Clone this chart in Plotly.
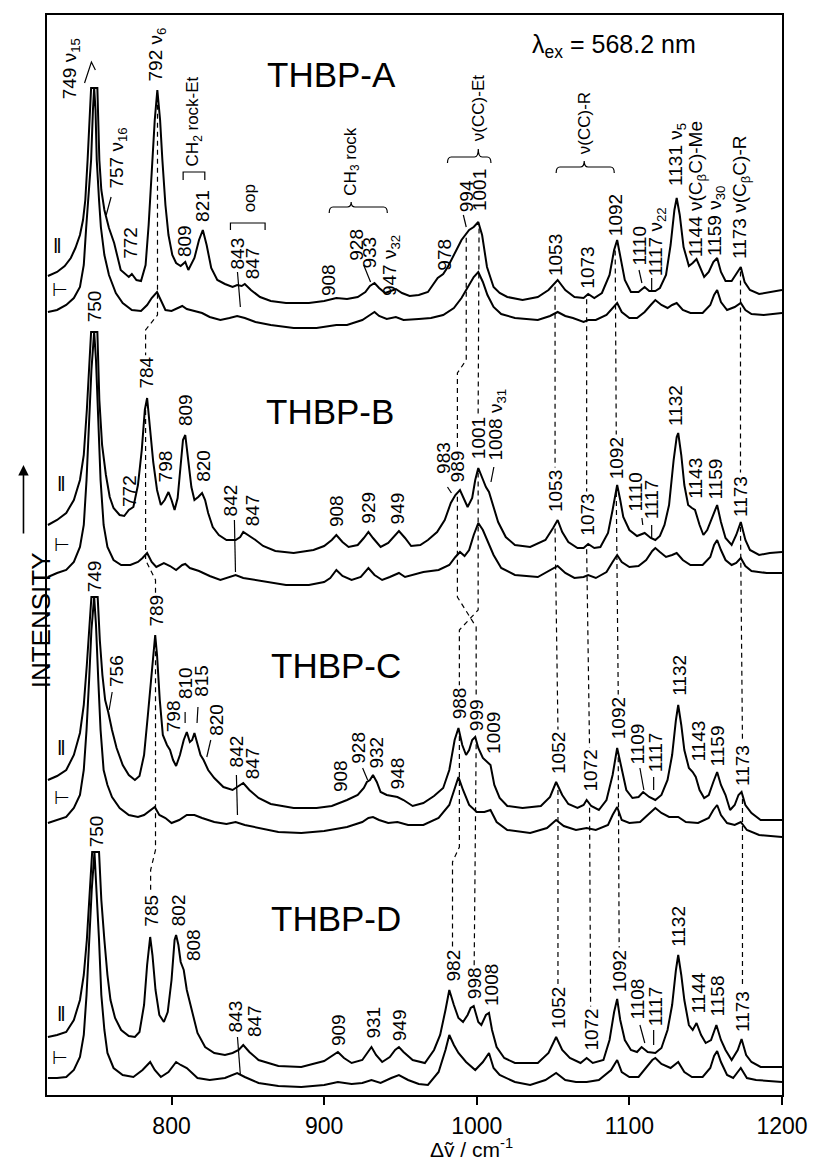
import numpy as np
import plotly.graph_objects as go

# ---------------- data: (wavenumber cm-1, relative Raman intensity) ----------------
A_PAR = [(719,29),(725,33),(730,39),(734,47),(737,57),(740,70),(742,85),(743.5,105),(745,145),(746.3,190),(747.3,217),(751.4,217),(752.7,145),(754,115),(756,95),(759,77),(762.4,62),(766.7,35),(769.5,31),(772,28),(774,31),(777,25),(780,24),(783,40),(785,80),(787,135),(789,185),(790.7,215),(792.5,185),(794,145),(796,100),(798,70),(800.5,50),(803,42),(806,39),(809,43),(811,35),(815,47),(818,65),(820.5,75),(823,60),(826,37),(830,25),(835,21),(840,18),(843,20),(846,19),(848,21),(852,15),(858,8),(865,4),(875,2),(890,2),(900,4),(908,7),(915,6),(922,8),(927,13),(930,19),(933,22),(936,17),(940,12),(944,14),(947,16),(951,12),(956,9),(962,10),(968,13),(974.4,27),(978,31),(981,38),(985,50),(990,65),(995,75),(998,78),(1001,83),(1003.5,70),(1006.7,38),(1011,18),(1015,12),(1020,8),(1030,5),(1040,8),(1047,15),(1053,25),(1058,15),(1064,8),(1070,7),(1073,11),(1077,7),(1082,12),(1087,30),(1090,55),(1092,65),(1094,50),(1097,25),(1101,13),(1106,13),(1110,18),(1113,14),(1117,14),(1120,17),(1124,30),(1127,60),(1129.5,95),(1131,107),(1133,90),(1135.5,58),(1139,39),(1141.5,42),(1144,46),(1146.5,37),(1149,28),(1152,33),(1155,43),(1157.5,47),(1160,33),(1163,24),(1167,24),(1170,31),(1173,38),(1175.5,23),(1179,15),(1185,11),(1200,15)]
A_PERP = [(719,18),(725,20),(731,25),(736,32),(740,43),(742.5,65),(744.1,103),(745.8,140),(747.3,170),(748.5,220),(749.3,242),(750.2,220),(751,170),(752.5,130),(753.7,103),(756,75),(759,55),(763.5,37),(768,27),(774,20),(780,19),(784,25),(787,32),(790.5,38),(793,30),(796,20),(800,19),(804,22),(807,24),(810,21),(815,19),(820,17),(825,13),(832,10),(838,12),(843,14),(848,12),(855,8),(865,5),(880,2),(895,2),(903,4),(908,5),(915,5),(925,10),(930,15),(933,18),(936,14),(941,11),(947,13),(952,10),(962,11),(970,12),(978,15),(985,22),(990,32),(995,45),(998,53),(1001,58),(1004,48),(1007,35),(1011,23),(1016,16),(1025,12),(1040,10),(1048,14),(1053,18),(1058,14),(1063,12),(1070,8),(1073,10),(1078,10),(1085,15),(1089,22),(1092,27),(1095,18),(1100,12),(1105,12),(1110,18),(1114,25),(1117,30),(1121,25),(1125,22),(1128,25),(1131,27),(1135,20),(1140,17),(1148,17),(1153,25),(1155.5,35),(1157.5,40),(1160,28),(1164,20),(1169,23),(1173,27),(1176,20),(1180,16),(1188,15),(1200,17)]
B_PAR = [(719,30),(725,35),(731,42),(736,55),(740,75),(742.5,100),(744.5,145),(746,190),(747.3,223),(751.4,223),(752.7,155),(754.5,110),(757,80),(759.5,58),(762,47),(766,40),(769,39),(772,45),(775,48),(778,70),(780.5,105),(782.5,145),(784,157),(786,125),(788,93),(790.5,65),(793,50),(795.5,55),(798,63),(800,55),(802,45),(804,57),(806,90),(807.5,115),(809,120),(811,95),(813,68),(815,55),(817.5,58),(820,62),(822,55),(824,42),(827,28),(831,20),(836,15),(842,15),(845,18),(847,23),(850,20),(855,15),(860,9),(868,4),(880,2),(893,5),(900,9),(905,15),(908,20),(912,13),(916,8),(922,10),(926,17),(929,23),(932,17),(937,8),(942,12),(946,19),(949,24),(953,17),(957,9),(963,10),(968,15),(974,23),(979,35),(983,52),(986,60),(989,65),(992,55),(994,48),(997,57),(999,75),(1001,87),(1004,75),(1006,68),(1008,63),(1011,47),(1014,33),(1019,18),(1025,10),(1035,8),(1045,15),(1050,27),(1053,35),(1056,23),(1060,13),(1066,7),(1070,7),(1073,11),(1077,7),(1081,8),(1086,22),(1089,45),(1091,65),(1092,70),(1094,55),(1096,38),(1100,25),(1105,19),(1110,22),(1114,17),(1117,15),(1120,19),(1123,30),(1126,50),(1129,95),(1131,118),(1132,122),(1134,100),(1136,70),(1138.5,50),(1141,47),(1143,45),(1146,30),(1148.5,20),(1151,25),(1154,37),(1157.5,50),(1160,33),(1163,17),(1167,10),(1170,20),(1173,33),(1176,15),(1179,5),(1185,0),(1192,2),(1200,3)]
B_PERP = [(719,8),(725,12),(731,15),(736,23),(740,38),(742.5,60),(744.3,105),(746,165),(747.5,215),(749.3,253),(750.5,225),(752,165),(753.5,105),(755.5,60),(758,38),(762,25),(767,20),(773,20),(778,23),(781,27),(784,32),(787,23),(790,18),(795,22),(799,19),(803,15),(807,20),(809,21),(812,17),(818,14),(825,9),(832,5),(838,8),(842,10),(847,7),(855,5),(862,3),(875,0),(890,0),(900,3),(904,7),(908,15),(912,9),(918,5),(924,8),(929,17),(933,10),(938,5),(943,8),(949,12),(953,8),(958,10),(965,13),(975,15),(982,20),(986,28),(989,33),(992,29),(995,35),(998,50),(1001,62),(1004,55),(1007,45),(1011,30),(1016,17),(1025,10),(1040,8),(1048,15),(1053,19),(1058,12),(1064,7),(1070,8),(1073,10),(1078,7),(1085,13),(1089,23),(1092,30),(1095,23),(1100,18),(1106,19),(1111,25),(1115,34),(1117,37),(1120,33),(1124,28),(1128,30),(1131,32),(1135,25),(1140,20),(1148,20),(1153,28),(1155.5,40),(1157.5,45),(1160,35),(1163,25),(1167,20),(1170,22),(1173,27),(1176,19),(1180,14),(1190,12),(1200,12)]
C_PAR = [(719,42),(725,46),(731,52),(736,67),(740,89),(742.5,117),(744.5,157),(746,197),(747.5,225),(751.6,225),(753,182),(754.7,147),(756.5,122),(758.5,110),(761,92),(764,74),(768,57),(772,47),(776,42),(779,46),(782,67),(784.5,107),(786.7,147),(788.3,177),(789.3,187),(790.5,167),(792.3,122),(794.3,87),(797,77),(799,72),(801,62),(803,56),(805.5,67),(808,82),(810,90),(812,80),(813.5,82),(815,89),(817,77),(819,67),(821,62),(824,52),(828,44),(834,35),(840,32),(843,35),(847,39),(851,32),(857,24),(865,18),(880,14),(895,14),(905,16),(915,22),(922,27),(926,34),(928,40),(930,42),(932,47),(934.5,40),(937,30),(941,27),(945,26),(948,25),(952,22),(958,16),(965,19),(972,26),(978,34),(982,52),(985.5,82),(988,94),(990.5,77),(993,67),(995,72),(997,82),(999,85),(1001,74),(1004,64),(1007,60),(1009,57),(1011.5,37),(1015,24),(1020,16),(1030,14),(1042,16),(1048,25),(1052,40),(1056,27),(1060,18),(1066,14),(1070,17),(1072,22),(1075,16),(1080,12),(1085,22),(1089,47),(1092,74),(1095,52),(1098,32),(1102,24),(1106,25),(1109,30),(1113,25),(1117,22),(1121,27),(1125,42),(1128,67),(1130.5,102),(1132,117),(1134,97),(1136,72),(1139,54),(1141.5,50),(1143.5,45),(1146,32),(1149,24),(1152,27),(1155,40),(1157.5,50),(1160,37),(1163,27),(1166,12),(1169,17),(1171.5,27),(1173.5,30),(1176,17),(1180,9),(1186,2),(1192,2),(1200,2)]
C_PERP = [(719,17),(725,20),(731,23),(736,32),(740,45),(742.5,70),(744.3,110),(746,160),(747.5,210),(749.3,243),(750.5,215),(752,160),(753.5,110),(755.5,70),(758,55),(761,43),(766,32),(772,25),(778,23),(782,25),(786,30),(789,33),(792,25),(796,22),(800,17),(805,20),(810,25),(815,25),(820,22),(828,18),(836,16),(842,18),(848,15),(858,12),(870,8),(885,7),(900,9),(915,13),(925,18),(929,22),(932,23),(936,20),(942,17),(948,18),(955,15),(965,15),(975,22),(982,35),(985.5,52),(988,63),(991,50),(995,35),(1000,28),(1005,28),(1009,30),(1013,18),(1020,10),(1035,7),(1046,12),(1052,20),(1057,14),(1065,10),(1072,12),(1078,10),(1086,15),(1089,25),(1092,33),(1095,20),(1100,17),(1107,18),(1112,25),(1117,32),(1121,27),(1126,23),(1132,23),(1137,18),(1145,17),(1152,22),(1155,30),(1157.5,35),(1160,25),(1164,17),(1169,15),(1173,18),(1177,10),(1185,5),(1200,3)]
D_PAR = [(719,31),(725,33),(731,36),(736,48),(740,68),(742.5,93),(744.5,128),(746.3,178),(748,216),(752.5,216),(754,168),(756,128),(758,93),(760,68),(763,50),(767,38),(772,32),(776,31),(779,36),(782,63),(784,103),(786,131),(787.5,113),(789.5,78),(792,53),(795,46),(797.5,56),(800,88),(802,128),(803,133),(804.5,123),(806,106),(808,98),(810,78),(813,60),(817,35),(822,21),(828,15),(835,13),(840,15),(844,18),(847,23),(851,16),(857,8),(870,2),(885,1),(900,7),(905,12),(909,16),(913,10),(918,5),(925,8),(929,16),(931,21),(934,13),(938,6),(943,11),(946.5,18),(949,21),(952,16),(958,8),(966,5),(972,18),(976,33),(979.5,58),(982,78),(985,63),(988,50),(991,46),(994,53),(996,60),(998,62),(1001,46),(1003,43),(1006,53),(1008,55),(1010,38),(1013,21),(1018,10),(1025,5),(1040,5),(1047,15),(1052,31),(1056,18),(1061,10),(1068,5),(1072,10),(1076,5),(1083,8),(1087,28),(1090,56),(1092,69),(1094,48),(1097,28),(1101,18),(1105,16),(1108,21),(1112,16),(1117,15),(1121,20),(1125,38),(1128,63),(1130.5,98),(1132,113),(1134,93),(1136,68),(1139,43),(1141.5,38),(1144,45),(1147,33),(1150,25),(1153.5,28),(1157,43),(1160,28),(1163,18),(1167,8),(1171,18),(1173.5,29),(1176.5,13),(1180,6),(1186,1),(1200,1)]
D_PERP = [(719,10),(725,10),(731,11),(736,18),(740,31),(742.5,53),(744.3,93),(746,148),(747.7,198),(749.5,236),(751,198),(752.5,148),(754,93),(756,58),(758,35),(762,20),(768,13),(775,11),(781,18),(786,26),(789,18),(793,11),(798,16),(803,26),(806,23),(810,20),(817,10),(825,8),(835,10),(840,13),(843,15),(848,11),(857,5),(870,2),(885,1),(900,3),(909,6),(918,4),(925,5),(931,8),(937,5),(944,10),(949,13),(955,8),(962,4),(968,3),(975,16),(979.5,38),(982,53),(985,43),(988,35),(993,26),(999,18),(1004,26),(1008,35),(1011,20),(1015,13),(1025,6),(1035,3),(1045,8),(1052,15),(1058,8),(1065,6),(1072,6),(1080,8),(1088,18),(1092,28),(1095,16),(1100,11),(1106,11),(1111,20),(1115,28),(1117,30),(1121,24),(1127,20),(1132,26),(1136,16),(1141,11),(1148,11),(1153,20),(1155.5,32),(1157.5,37),(1160,26),(1164,13),(1168,10),(1173,20),(1177,10),(1183,8),(1200,6)]

X_TICKS = [800, 900, 1000, 1100, 1200]
PANELS = ["THBP-A", "THBP-B", "THBP-C", "THBP-D"]

# peak labels per panel
PEAKS_A = ["749 ν<sub>15</sub>", "757 ν<sub>16</sub>", "772", "792 ν<sub>6</sub>", "809", "821", "843", "847", "908", "928", "933", "947 ν<sub>32</sub>", "978", "994", "1001", "1053", "1073", "1092", "1110", "1117 ν<sub>22</sub>", "1131 ν<sub>5</sub>", "1144 ν(C<sub>β</sub>C)-Me", "1159 ν<sub>30</sub>", "1173 ν(C<sub>β</sub>C)-R"]
PEAKS_B = ["750", "772", "784", "798", "809", "820", "842", "847", "908", "929", "949", "983", "989", "1001", "1008 ν<sub>31</sub>", "1053", "1073", "1092", "1110", "1117", "1132", "1143", "1159", "1173"]
PEAKS_C = ["749", "756", "789", "798", "810", "815", "820", "842", "847", "908", "928", "932", "948", "988", "999", "1009", "1052", "1072", "1092", "1109", "1117", "1132", "1143", "1159", "1173"]
PEAKS_D = ["750", "785", "802", "808", "843", "847", "909", "931", "949", "982", "998", "1008", "1052", "1072", "1092", "1108", "1117", "1132", "1144", "1158", "1173"]
GROUPS = ["CH<sub>2</sub> rock-Et", "oop", "CH<sub>3</sub> rock", "ν(CC)-Et", "ν(CC)-R"]

# peaks correlated between the four compounds (dashed lines)
CORR = [("792 ν<sub>6</sub>", "784", "789", "785"),
        ("994", "989", "999", "998"),
        ("1001", "1001", "988", "982"),
        ("1053", "1053", "1052", "1052"),
        ("1073", "1073", "1072", "1072"),
        ("1092", "1092", "1092", "1092"),
        ("1173 ν(C<sub>β</sub>C)-R", "1173", "1173", "1173")]

# ---------------- layout / placement ----------------
FONT = "Arial, Liberation Sans, Helvetica, sans-serif"
OFF_PAR = [790, 540, 273, 27]
OFF_PERP = [765, 510, 255, 7]
PAR = [A_PAR, B_PAR, C_PAR, D_PAR]
PERP = [A_PERP, B_PERP, C_PERP, D_PERP]

POS_A = [(734.0, 995), (764.3, 905), (772.7, 835), (790.8, 1013), (808.2, 837), (819.9, 872), (843.2, 825), (852.9, 815), (902.6, 798), (920.7, 833), (929.1, 825), (943.5, 798), (978.3, 823), (993.1, 882), (1001.5, 883), (1051.3, 818), (1072.0, 805), (1090.7, 858), (1106.3, 828), (1118.0, 818), (1130.8, 908), (1144.4, 837), (1156.7, 838), (1172.8, 835)]
POS_B = [(749.4, 772), (772.1, 587), (783.0, 705), (796.0, 612), (808.9, 668), (820.5, 612), (838.6, 578), (852.9, 568), (907.8, 567), (928.5, 570), (948.0, 570), (977.8, 620), (987.3, 612), (1000.9, 635), (1013.0, 633), (1051.3, 582), (1072.0, 558), (1091.4, 615), (1103.7, 582), (1114.6, 575), (1130.2, 668), (1143.1, 595), (1156.7, 595), (1172.8, 577)]
POS_C = [(749.4, 502), (763.6, 407), (789.5, 467), (801.1, 362), (808.9, 395), (819.2, 397), (829.0, 358), (842.5, 327), (852.9, 315), (910.4, 302), (922.0, 330), (933.7, 325), (948.0, 305), (988.6, 375), (999.6, 363), (1010.6, 340), (1053.2, 320), (1073.9, 302), (1092.7, 355), (1105.6, 330), (1117.2, 322), (1132.7, 398), (1145.0, 332), (1158.0, 328), (1174.1, 308)]
POS_D = [(750.7, 247), (786.3, 167), (804.4, 168), (814.1, 133), (841.9, 62), (854.1, 57), (909.1, 48), (931.7, 55), (949.2, 53), (984.1, 112), (998.3, 95), (1009.3, 88), (1053.2, 65), (1074.6, 43), (1093.3, 102), (1105.6, 75), (1117.2, 68), (1132.1, 147), (1145.0, 80), (1158.0, 78), (1174.1, 62)]
POS_GROUPS = [(815.0, 928), (851.0, 882), (917.7, 898), (1000.9, 953), (1070.4, 940)]
LABEL_SIZE = 19

fig = go.Figure()
for data, off in list(zip(PAR, OFF_PAR)) + list(zip(PERP, OFF_PERP)):
    fig.add_trace(go.Scatter(x=[p[0] for p in data], y=[p[1] + off for p in data],
                             mode="lines", line=dict(color="black", width=2),
                             hoverinfo="skip", showlegend=False))

def label(text, x, y, size=LABEL_SIZE, angle=-90, xa="center", ya="bottom"):
    fig.add_annotation(x=x, y=y, xref="x", yref="y", text=text, textangle=angle,
                       showarrow=False, xanchor=xa, yanchor=ya, borderpad=0,
                       font=dict(family=FONT, size=size, color="black"))

panel_labels = []
for texts, pos in [(PEAKS_A, POS_A), (PEAKS_B, POS_B), (PEAKS_C, POS_C), (PEAKS_D, POS_D)]:
    d = {}
    for t, (x, y) in zip(texts, pos):
        label(t, x, y)
        d[t] = (x, y)
    panel_labels.append(d)
for t, (x, y) in zip(GROUPS, POS_GROUPS):
    label(t, x, y, size=17)

for name, (x, y) in zip(PANELS, [(904.6, 1021), (903.9, 684), (907.8, 430), (907.8, 177)]):
    label(name, x, y, size=35, angle=0, ya="middle")
label("λ<sub>ex</sub> = 568.2 nm", 1090.1, 1049, size=25, angle=0, ya="middle")

for (xp, yp), (xq, yq) in [((725.5, 850), (726.8, 805)), ((728.1, 612), (728.1, 550)),
                           ((728.1, 348), (728.1, 297)), ((728.1, 82), (726.8, 37))]:
    label("‖", xp, yp, size=21, angle=0, ya="middle")
    label("⊢", xq, yq, size=18, angle=0, ya="middle")

shapes = []
def seg(pts, dash=None, width=1.0):
    path = "M " + " L ".join(f"{x},{y}" for x, y in pts)
    ln = dict(color="black", width=width)
    if dash:
        ln["dash"] = dash
    shapes.append(dict(type="path", path=path, xref="x", yref="y", line=ln, layer="below"))

BENDS = {(0, 0): (780, 765), (0, 1): (535, 515), (0, 2): (245, 225),
         (1, 0): (735, 722), (1, 1): (498, 468),
         (2, 1): (485, 465), (2, 2): (248, 233)}
for li, chain in enumerate(CORR):
    xs = [panel_labels[p][t][0] for p, t in enumerate(chain)]
    for g in range(3):
        data = PAR[g]
        apex = OFF_PAR[g] + float(np.interp(xs[g], [p[0] for p in data], [p[1] for p in data]))
        lx, ly = panel_labels[g + 1][chain[g + 1]]
        top = ly + 10.6 * len(chain[g + 1]) + 3
        pts = [(xs[g], apex - 4)]
        if (li, g) in BENDS:
            b1, b2 = BENDS[(li, g)]
            pts += [(xs[g], b1), (xs[g + 1], b2)]
        pts.append((xs[g + 1], top))
        seg(pts, dash="5px,4px", width=1.2)

LEADERS = [[(757.2, 880), (760.4, 898)], [(925.9, 830), (930.4, 813)], [(991.2, 880), (993.1, 868)],
           [(1106.3, 825), (1108.2, 812)], [(1114.6, 817), (1114.6, 805)], [(843.2, 823), (845.1, 788)],
           [(841.2, 575), (841.9, 523)], [(980.8, 608), (983.4, 602)], [(1011.2, 628), (1009.3, 613)],
           [(1108.2, 577), (1108.8, 570)], [(1114.6, 570), (1114.6, 557)],
           [(761.1, 403), (759.1, 385)], [(808.9, 383), (808.9, 372)], [(817.3, 388), (816.7, 372)],
           [(825.7, 355), (823.1, 338)], [(842.5, 320), (843.2, 280)], [(925.2, 327), (928.5, 315)],
           [(1106.9, 327), (1109.5, 305)], [(1115.9, 318), (1115.9, 305)],
           [(843.2, 58), (845.1, 20)], [(1106.9, 70), (1110.1, 52)], [(1115.9, 65), (1115.9, 50)],
           [(743.0, 1012), (747.5, 1033), (750.1, 1025)]]
for pts in LEADERS:
    seg(pts, width=1.2)

seg([(807.6, 915), (807.6, 923), (821.8, 923), (821.8, 915)], width=1.2)
seg([(838.6, 865), (838.6, 872), (861.3, 872), (861.3, 865)], width=1.2)
def brace(x1, x2, xm, y0, y1, y2):
    path = (f"M {x1},{y0} Q {x1},{y1} {x1+2.5},{y1} L {xm-2.5},{y1} Q {xm},{y1} {xm},{y2} "
            f"Q {xm},{y1} {xm+2.5},{y1} L {x2-2.5},{y1} Q {x2},{y1} {x2},{y0}")
    shapes.append(dict(type="path", path=path, xref="x", yref="y",
                       line=dict(color="black", width=1.2), layer="below"))
brace(903.3, 941.4, 917.7, 882, 888, 893)
brace(980.8, 1009.3, 1001.0, 932, 938, 946)
brace(1052.0, 1090.1, 1070.4, 922, 928, 934)

fig.add_annotation(x=-0.032, y=0.44, xref="paper", yref="paper", text="INTENSITY", textangle=-90,
                   showarrow=False, font=dict(family=FONT, size=26, color="black"))
fig.add_annotation(x=-0.032, y=0.5833, xref="paper", yref="paper", text="", showarrow=True,
                   ax=0, ay=70, arrowhead=2, arrowsize=1.3, arrowwidth=1.6, arrowcolor="black")
fig.add_annotation(x=0.577, y=-0.0495, xref="paper", yref="paper", text="Δṽ / cm<sup>-1</sup>",
                   showarrow=False, yanchor="middle", font=dict(family=FONT, size=21, color="black"))

fig.update_layout(
    width=820, height=1160, margin=dict(l=47, r=28, t=15, b=65),
    paper_bgcolor="white", plot_bgcolor="white", showlegend=False, shapes=shapes,
    xaxis=dict(range=[718.4, 1200], tickvals=X_TICKS, ticks="outside", ticklen=8, tickwidth=1.5,
               tickcolor="black", showline=True, linecolor="black", linewidth=1.5, mirror=True,
               showgrid=False, zeroline=False, ticklabelstandoff=2,
               tickfont=dict(family=FONT, size=23, color="black")),
    yaxis=dict(range=[0, 1080], showticklabels=False, ticks="", showline=True, linecolor="black",
               linewidth=1.5, mirror=True, showgrid=False, zeroline=False),
)
fig.write_html("out.html")
